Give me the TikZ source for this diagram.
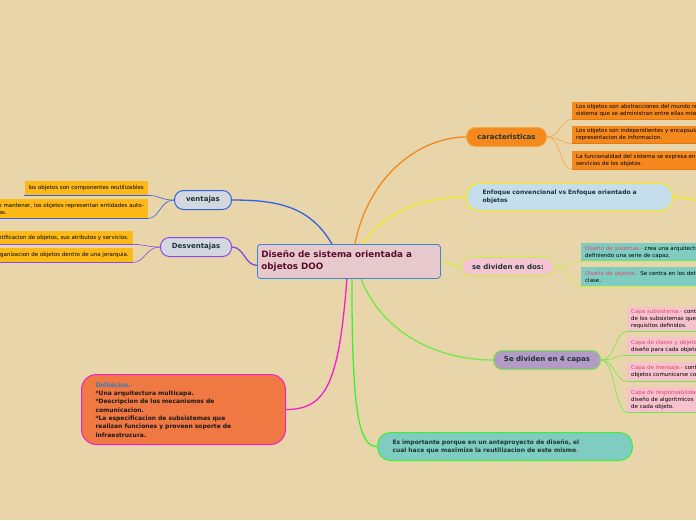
\documentclass[tikz,border=0pt]{standalone}
\usepackage{fontspec}
\setmainfont{DejaVu Sans}
\newfontfamily\headfont{Liberation Serif}
\usepackage{xcolor}
\usepackage{tikz}
\definecolor{paper}{HTML}{E8D5A9}
\definecolor{ink}{HTML}{1E3434}
\definecolor{rootfill}{HTML}{E7C8CD}
\definecolor{rootline}{HTML}{3A88CF}
\definecolor{rootink}{HTML}{5A0C2C}
\definecolor{orange}{HTML}{F5891E}
\definecolor{orangeline}{HTML}{F7A843}
\definecolor{orangedeep}{HTML}{E27810}
\definecolor{yellow}{HTML}{F0EE22}
\definecolor{skyfill}{HTML}{C6DDEE}
\definecolor{lime}{HTML}{C8F042}
\definecolor{pinkfill}{HTML}{F6C5D4}
\definecolor{teal}{HTML}{7ECDC0}
\definecolor{green}{HTML}{74E846}
\definecolor{violet}{HTML}{B39AC7}
\definecolor{rose}{HTML}{F6C2CE}
\definecolor{brightgreen}{HTML}{3EEE3A}
\definecolor{magenta}{HTML}{F020D0}
\definecolor{coral}{HTML}{F07842}
\definecolor{titleblue}{HTML}{2C7DC6}
\definecolor{blue}{HTML}{3064E4}
\definecolor{gray}{HTML}{D2D7E0}
\definecolor{purple}{HTML}{8A4AE6}
\definecolor{gold}{HTML}{FDB917}
\definecolor{redlabel}{HTML}{E2466E}
\newcommand{\hilite}[1]{\textcolor{redlabel}{#1}}
\tikzset{
  font=\fontsize{5.5}{7}\selectfont,
  topic/.style={
    draw=#1, line width=1pt, rounded corners=9pt, anchor=north west,
    inner sep=0pt, align=center, text=ink,
    font=\bfseries\fontsize{7}{8}\selectfont
  },
  widetopic/.style={topic=#1, align=left, rounded corners=12pt, font=\bfseries\fontsize{6}{8}\selectfont},
  leaf/.style={fill=#1, anchor=north west, align=left, text width=210pt, inner xsep=4pt, inner ysep=0pt, text=black},
  sideleaf/.style={fill=#1, anchor=north east, align=left, inner xsep=4pt, inner ysep=0pt, text=black},
  link/.style={draw=#1, line width=1.3pt},
  twig/.style={draw=#1, line width=0.6pt},
  uline/.style={draw=#1, line width=1.2pt}
}
\begin{document}
\begin{tikzpicture}[x=1pt, y=-1pt]
  \useasboundingbox (0,0) rectangle (696,520);
  \clip (0,0) rectangle (696,520);
  \fill[paper] (0,0) rectangle (696,520);

  % central topic
  \node[topic=rootline, fill=rootfill, rounded corners=3pt, line width=0.8pt, align=left, text width=175pt, inner xsep=4pt, minimum height=34pt, text=rootink, font=\bfseries\fontsize{8.8}{12}\selectfont] (root) at (257,244) {Diseño de sistema orientada a\\objetos DOO};

  % caracteristicas
  \node[topic=orangeline, fill=orange, minimum width=80pt, minimum height=19pt] (carac) at (466,127) {caracteristicas};
  \node[leaf=orange, minimum height=17pt] (carac1) at (572,102) {Los objetos son abstracciones del mundo real o entidades del\\sistema que se administran entre ellas mismas.};
  \node[leaf=orange, minimum height=17pt] (carac2) at (572,126) {Los objetos son independientes y encapsulan el estado y la\\representacion de informacion.};
  \node[leaf=orange, minimum height=18pt] (carac3) at (572,151) {La funcionalidad del sistema se expresa en terminos de los\\servicios de los objetos.};

  % enfoque
  \node[widetopic=yellow, fill=skyfill, line width=1.2pt, text width=174pt, inner xsep=16pt, minimum height=27pt] (enfoque) at (466,183) {Enfoque convencional vs Enfoque orientado a\\objetos};
  \coordinate (enfoqueout) at (706,202);

  % se dividen en dos
  \node[topic=lime, fill=pinkfill, minimum width=93pt, minimum height=18pt] (dos) at (461,257) {se dividen en dos:};
  \node[leaf=teal, minimum height=18pt] (dos1) at (581,243) {\hilite{Diseño de sistemas.-} crea una arquitectura de software\\definiendo una serie de capaz.};
  \node[leaf=teal, minimum height=19pt] (dos2) at (581,267) {\hilite{Diseño de objetos.-} Se centra en los detalles de cada\\clase.};

  % cuatro capas
  \node[topic=green, fill=violet, minimum width=107pt, minimum height=19pt] (capas) at (493,350) {Se dividen en 4 capas};
  \node[leaf=rose, minimum height=24pt] (capa1) at (627,307) {\hilite{Capa subsistema.-} contiene una representacion de cada uno\\de los subsistemas que permiten al software\\requisitos definidos.};
  \node[leaf=rose, minimum height=18pt] (capa2) at (627,337) {\hilite{Capa de clases y objetos.-} contiene la jerarquia de clases\\diseño para cada objeto.};
  \node[leaf=rose, minimum height=19pt] (capa3) at (627,362) {\hilite{Capa de mensaje.-} contiene los detalles que permiten a los\\objetos comunicarse con sus colaboradores.};
  \node[leaf=rose, minimum height=25pt] (capa4) at (627,387) {\hilite{Capa de responsabilidades.-} contiene las estructuras de datos\\diseño de algoritmicos para todos los atributos\\de cada objeto.};

  % importancia
  \node[widetopic=brightgreen, fill=teal, text width=225pt, inner xsep=15pt, minimum height=28pt, rounded corners=13pt] (importa) at (377,432) {Es importante porque en un anteproyecto de diseño, el\\cual hace que maximize la reutilizacion de este mismo\hilite{.}};

  % definicion
  \node[widetopic=magenta, fill=coral, text width=176pt, inner xsep=14pt, minimum height=70pt, rounded corners=15pt, text=black!90, font=\bfseries\fontsize{6}{8.3}\selectfont] (defin) at (81,374) {{\headfont\fontsize{7.5}{8.5}\selectfont\textcolor{titleblue}{Definicion.-}}\\{*}Una arquitectura multicapa.\\{*}Descripcion de los mecanismos de\\comunicacion.\\{*}La especificacion de subsistemas que\\realizan funciones y proveen soporte de\\infraestrucura.};

  % ventajas
  \node[topic=blue, fill=gray, minimum width=57pt, minimum height=19pt] (ventajas) at (174,190) {ventajas};
  \node[sideleaf=gold, minimum height=14pt] (vent1) at (148,181) {los objetos son componentes reutilizables};
  \node[sideleaf=gold, minimum height=19pt] (vent2) at (148,199) {Fáciles de mantener, los objetos representan entidades auto-\\contenidas.};

  % desventajas
  \node[topic=purple, fill=gray, minimum width=71pt, minimum height=19pt] (desv) at (160,237) {Desventajas};
  \node[sideleaf=gold, minimum height=13pt] (desv1) at (133,231) {Identificacion de objetos, sus atributos y servicios.};
  \node[sideleaf=gold, minimum height=14pt] (desv2) at (133,248) {Organizacion de objetos dentro de  una jerarquia.};

  % main branches
  \draw[link=orange] ([xshift=6pt]root.north) .. controls +(14,-70) and +(-45,0) .. (carac.west);
  \draw[link=yellow] ([xshift=14pt]root.north) .. controls +(22,-32) and +(-45,0) .. (enfoque.west);
  \draw[link=yellow] (enfoque.east) .. controls +(14,0) and +(-10,0) .. (enfoqueout);
  \draw[link=lime] (root.east) .. controls +(10,0) and +(-10,0) .. (dos.west);
  \draw[link=green] ([xshift=12pt]root.south) .. controls +(22,55) and +(-55,0) .. (capas.west);
  \draw[link=brightgreen] ([xshift=3pt]root.south) .. controls +(0,135) and +(-18,0) .. (importa.west);
  \draw[link=magenta] ([xshift=-2pt]root.south) .. controls +(-8,105) and +(40,0) .. (defin.east);
  \draw[link=blue] ([xshift=-17pt]root.north) .. controls +(-22,-38) and +(45,0) .. (ventajas.east);
  \draw[link=purple] ([yshift=-4pt]root.west) .. controls +(-12,0) and +(12,0) .. (desv.east);

  % sub branches
  \draw[twig=orangeline] (carac.east) .. controls +(14,0) and +(-12,0) .. (carac1.south west);
  \draw[twig=orangeline] (carac.east) .. controls +(14,0) and +(-12,0) .. (carac2.south west);
  \draw[twig=orangeline] (carac.east) .. controls +(14,0) and +(-12,0) .. (carac3.south west);
  \draw[twig=lime] (dos.east) .. controls +(14,0) and +(-12,0) .. (dos1.south west);
  \draw[twig=lime] (dos.east) .. controls +(14,0) and +(-12,0) .. (dos2.south west);
  \draw[twig=green] (capas.east) .. controls +(14,0) and +(-12,0) .. (capa1.south west);
  \draw[twig=green] (capas.east) .. controls +(14,0) and +(-12,0) .. (capa2.south west);
  \draw[twig=green] (capas.east) .. controls +(14,0) and +(-12,0) .. (capa3.south west);
  \draw[twig=green] (capas.east) .. controls +(14,0) and +(-12,0) .. (capa4.south west);
  \draw[twig=blue] (ventajas.west) .. controls +(-14,0) and +(12,0) .. (vent1.south east);
  \draw[twig=blue] (ventajas.west) .. controls +(-14,0) and +(12,0) .. (vent2.south east);
  \draw[twig=purple] (desv.west) .. controls +(-14,0) and +(12,0) .. (desv1.south east);
  \draw[twig=purple] (desv.west) .. controls +(-14,0) and +(12,0) .. (desv2.south east);

  % underlines
  \draw[uline=orangedeep] (carac1.south west) -- (carac1.south east);
  \draw[uline=orangedeep] (carac2.south west) -- (carac2.south east);
  \draw[uline=orangedeep] (carac3.south west) -- (carac3.south east);
  \draw[uline=lime] (dos1.south west) -- (dos1.south east);
  \draw[uline=lime] (dos2.south west) -- (dos2.south east);
  \draw[uline=green] (capa1.south west) -- (capa1.south east);
  \draw[uline=green] (capa2.south west) -- (capa2.south east);
  \draw[uline=green] (capa3.south west) -- (capa3.south east);
  \draw[uline=green] (capa4.south west) -- (capa4.south east);
  \draw[uline=blue] (vent1.south west) -- (vent1.south east);
  \draw[uline=blue] (vent2.south west) -- (vent2.south east);
  \draw[uline=purple] (desv1.south west) -- (desv1.south east);
  \draw[uline=purple] (desv2.south west) -- (desv2.south east);
\end{tikzpicture}
\end{document}
